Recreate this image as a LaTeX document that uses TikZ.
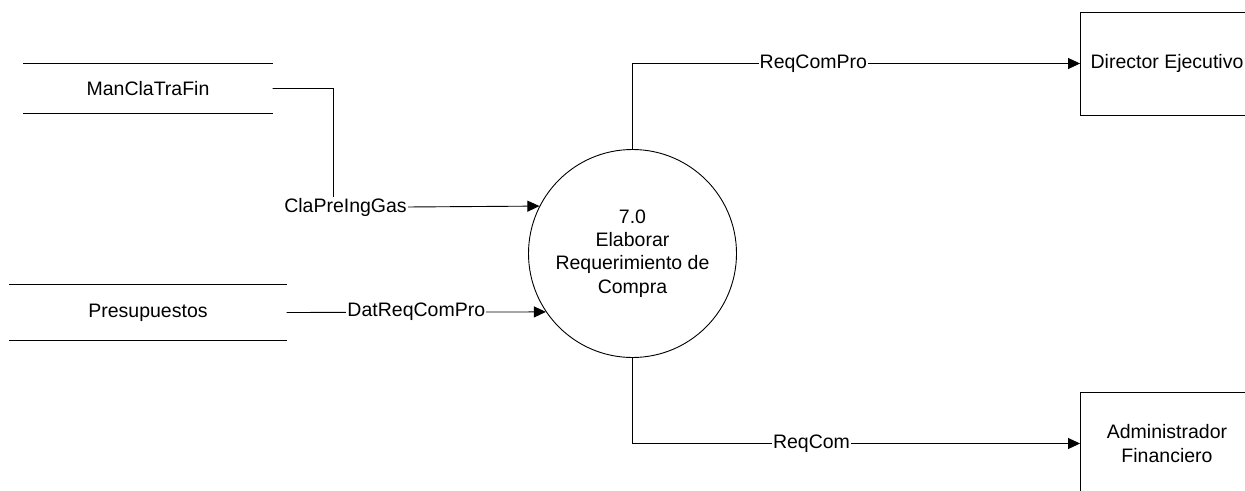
\documentclass[tikz,border=0pt]{standalone}
\usepackage{fontspec}
\setmainfont{Liberation Sans}
\usetikzlibrary{arrows.meta}
\begin{document}
\begin{tikzpicture}[x=1pt,y=-1pt,
  every node/.style={font=\fontsize{19.5}{23.3}\selectfont},
  ln/.style={line width=0.9pt, draw=black},
  store/.style={inner sep=0pt},
  proc/.style={circle, draw=black, line width=0.9pt, minimum size=208pt, inner sep=0pt, align=center},
  ent/.style={rectangle, draw=black, line width=0.9pt, minimum width=173pt, minimum height=103pt, inner sep=0pt, align=center},
  flow/.style={ln, -{Triangle[length=12pt,width=11pt]}},
  lbl/.style={fill=white, inner xsep=1pt, inner ysep=1pt}]
\useasboundingbox (-0.5,-0.5) rectangle (1244.5,489.5);
\clip (-0.5,-0.5) rectangle (1244.5,489.5);
\fill[white] (-0.5,-0.5) rectangle (1244.5,489.5);

% data stores
\node[store, minimum width=249pt, minimum height=50pt] (s1) at (147.5,88) {ManClaTraFin};
\draw[ln] (s1.north west) -- (s1.north east) (s1.south west) -- (s1.south east);
\node[store, minimum width=277pt, minimum height=55pt] (s2) at (147.5,312) {Presupuestos};
\draw[ln] (s2.north west) -- (s2.north east) (s2.south west) -- (s2.south east);

% process
\node[proc] (p) at (632,253) {7.0\\Elaborar\\Requerimiento de\\Compra};

% external entities
\node[ent] (d1) at (1166.5,63) {Director Ejecutivo};
\node[ent] (d2) at (1166.5,443) {Administrador\\Financiero};

% flows
\coordinate (k1) at (333,207);
\draw[flow] (s1.east) -| (k1) node[lbl, xshift=12pt] (l1) {ClaPreIngGas} -- (p.153.87);
\draw[flow] (s2.east) -- node[lbl, pos=0.5] (l2) {DatReqComPro} (p.214.41);
\draw[flow] (p.north) |- node[lbl, pos=0.702] (l3) {ReqComPro} (d1.west);
\draw[flow] (p.south) |- node[lbl, pos=0.70] (l4) {ReqCom} (d2.west);
\end{tikzpicture}
\end{document}
